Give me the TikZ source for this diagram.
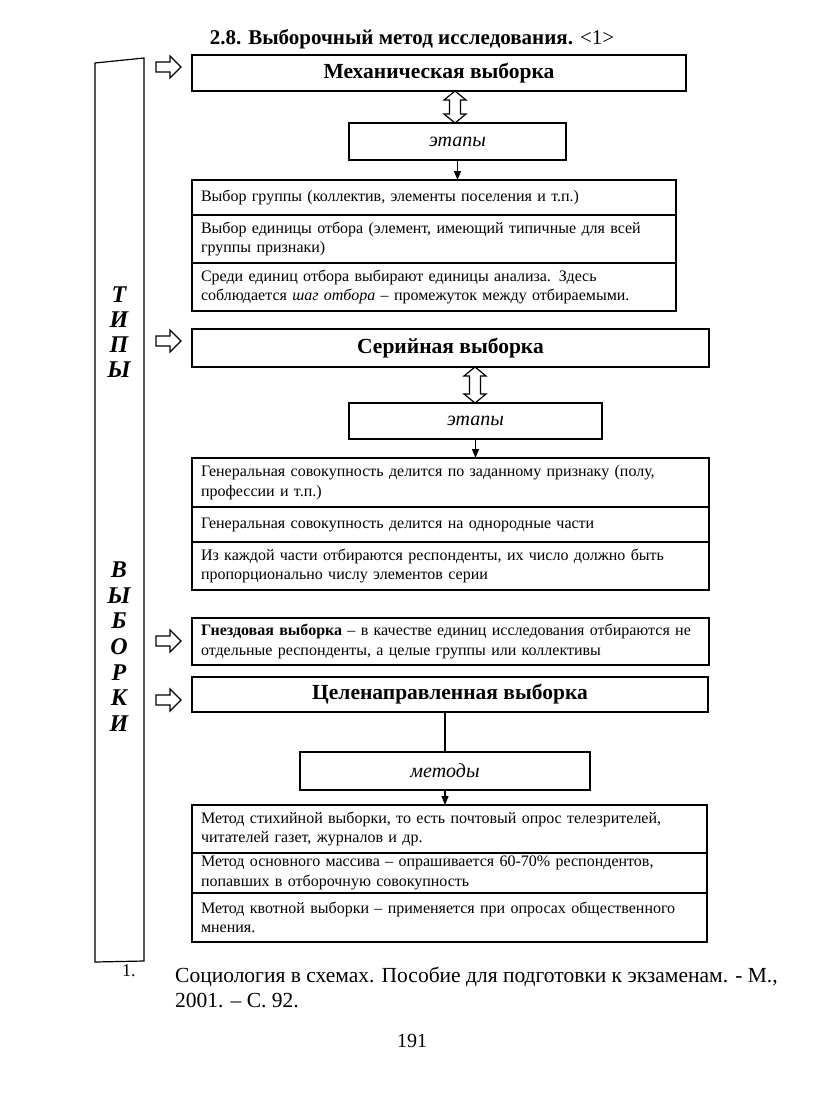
\documentclass[tikz,border=0pt]{standalone}
\usepackage{fontspec}
\setmainfont{Liberation Serif}
\usetikzlibrary{arrows.meta}
\newcommand\dblarrow[3]{%
  \draw[line width=1.2pt, fill=white] (#1,#2) -- ++(11,9) -- ++(-5.5,0) -- (#1+5.5,#3-9) -- ++(5.5,0) -- (#1,#3) -- ++(-11,-9) -- ++(5.5,0) -- (#1-5.5,#2+9) -- ++(-5.5,0) -- cycle;}
\newcommand\hollowarrow[2]{%
  \draw[line width=1.2pt] (#1,#2-5) -- ++(14,0) -- ++(0,-6) -- ++(11,11) -- ++(-11,11) -- ++(0,-6) -- ++(-14,0) -- cycle;}
\begin{document}
\begin{tikzpicture}[x=1pt,y=-1pt,
  bx/.style={draw, line width=1.2pt, anchor=north west, inner sep=0pt, outer sep=0pt},
  headbox/.style={bx, font=\fontsize{21.5}{23}\selectfont\bfseries},
  stagebox/.style={bx, font=\fontsize{20}{22}\selectfont\itshape},
  cell/.style={draw, line width=1.2pt, anchor=north west, inner xsep=9pt, inner ysep=0pt, outer sep=0pt, align=left, font=\fontsize{16}{19.5}\selectfont},
  letter/.style={font=\fontsize{24}{24}\selectfont\bfseries\itshape, inner sep=0pt},
  arr/.style={line width=1.2pt, -{Triangle[length=9pt,width=7pt]}},
  ln/.style={line width=1.2pt}]
\useasboundingbox (0,0) rectangle (823,1098);

% title
\node[anchor=base, font=\fontsize{21}{23}\selectfont] (title) at (412,44) {\textbf{2.8. Выборочный метод исследования.} <1>};

% bracket
\draw[line width=1.2pt] (95,63) -- (144,58) -- (144,961) -- (95,962) -- cycle;
\foreach \ch/\yy [count=\i] in {Т/295,И/320,П/345,Ы/370,В/570,Ы/596,Б/621,О/647,Р/673,К/698,И/724}
  \node[letter] (L\i) at (119,\yy) {\ch};

% hollow arrows
\hollowarrow{156}{67}
\hollowarrow{156}{341}
\hollowarrow{156}{641}
\hollowarrow{156}{700}

% mechanical sampling
\node[headbox, minimum width=494pt, minimum height=36pt] (b1) at (192,55) {Механическая выборка};
\node[stagebox, minimum width=217pt, minimum height=37pt] (e1) at (349,123) {этапы};
\dblarrow{455}{91}{123}
\node[cell, text width=466pt, minimum height=35pt] (m1) at (192,180) {Выбор группы (коллектив, элементы поселения и т.п.)};
\node[cell, text width=466pt, minimum height=48pt] (m2) at (192,215) {Выбор единицы отбора (элемент, имеющий типичные для всей\\группы признаки)};
\node[cell, text width=466pt, minimum height=48pt] (m3) at (192,263) {Среди единиц отбора выбирают единицы анализа. Здесь\\соблюдается \textit{шаг отбора} – промежуток между отбираемыми.};
\draw[arr] (e1.south) -- (e1.south |- m1.north);

% serial sampling
\node[headbox, minimum width=517pt, minimum height=38pt] (b2) at (192,329) {Серийная выборка};
\node[stagebox, minimum width=253pt, minimum height=36pt] (e2) at (349,403) {этапы};
\dblarrow{475}{367}{403}
\node[cell, text width=499pt, minimum height=49pt] (s1) at (192,458) {Генеральная совокупность делится по заданному признаку (полу,\\профессии и т.п.)};
\node[cell, text width=499pt, minimum height=35pt] (s2) at (192,507) {Генеральная совокупность делится на однородные части};
\node[cell, text width=499pt, minimum height=48pt] (s3) at (192,542) {Из каждой части отбираются респонденты, их число должно быть\\пропорционально числу элементов серии};
\draw[arr] (e2.south) -- (e2.south |- s1.north);

% nest sampling
\node[cell, text width=499pt, minimum height=47pt] (b3) at (192,618) {\textbf{Гнездовая выборка} – в качестве единиц исследования отбираются не\\отдельные респонденты, а целые группы или коллективы};

% purposive sampling
\node[headbox, minimum width=516pt, minimum height=35pt] (b4) at (192,677) {Целенаправленная выборка};
\node[stagebox, minimum width=290pt, minimum height=38pt] (me) at (300,752) {методы};
\node[cell, text width=497pt, minimum height=48pt] (t1) at (192,805) {Метод стихийной выборки, то есть почтовый опрос телезрителей,\\читателей газет, журналов и др.};
\node[cell, text width=497pt, minimum height=40pt] (t2) at (192,853) {Метод основного массива – опрашивается 60-70\% респондентов,\\попавших в отборочную совокупность};
\node[cell, text width=497pt, minimum height=49pt] (t3) at (192,893) {Метод квотной выборки – применяется при опросах общественного\\мнения.};
\draw[ln] (me.north |- b4.south) -- (me.north);
\draw[arr] (me.south) -- (me.south |- t1.north);

% footnote
\node[anchor=base west, font=\fontsize{18}{20}\selectfont, inner sep=0pt] (fnum) at (122,976) {1.};
\node[anchor=base west, font=\fontsize{21.5}{23}\selectfont, inner sep=0pt] (fn1) at (175,982) {Социология в схемах. Пособие для подготовки к экзаменам. - М.,};
\node[anchor=base west, font=\fontsize{21.5}{23}\selectfont, inner sep=0pt] (fn2) at (175,1007) {2001. – С. 92.};
\node[anchor=base, font=\fontsize{20}{20}\selectfont, inner sep=0pt] (page) at (412,1047) {191};
\end{tikzpicture}
\end{document}
